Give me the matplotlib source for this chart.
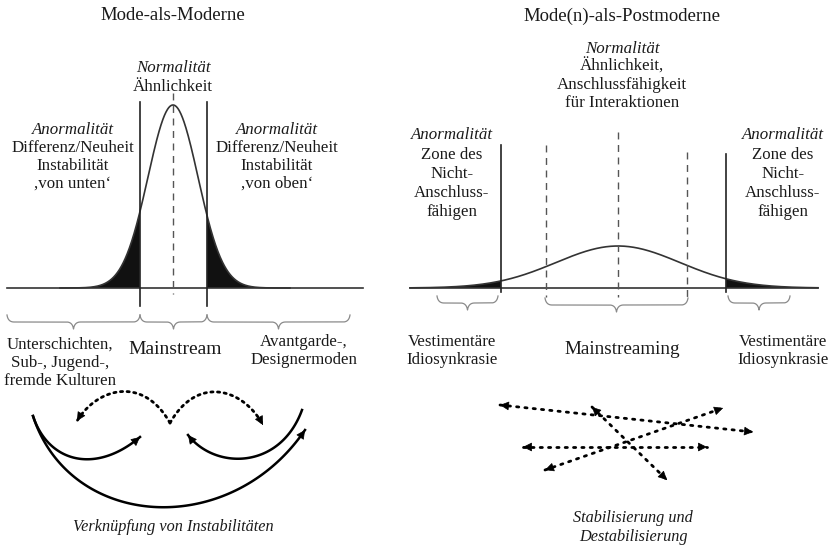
import numpy as np
import matplotlib.pyplot as plt
from math import comb

plt.rcParams['font.family'] = ['Liberation Serif', 'DejaVu Serif']

# canvas in pixel units (y downwards)
W, H = 835, 546

# --- left panel: Mode-als-Moderne ---
left_base_y = 288
left_base_x = [7, 363]
left_mu, left_sigma, left_peak = 173, 25, 183
left_cuts = [140, 207]
left_cut_top = 102
left_cut_bottom = 306
left_dash = [173, 93, 294]

# --- right panel: Mode(n)-als-Postmoderne ---
right_base_y = 288
right_base_x = [410, 818]
right_mu, right_sigma, right_peak = 618, 62, 42
right_cuts = [501, 726]
right_cut_tops = [145, 154]
right_dashes = [546, 618, 687]
right_dash_tops = [145, 132, 152]
right_dash_bottom = 297

titles = [("Mode-als-Moderne", 173, 16), ("Mode(n)-als-Postmoderne", 622, 16)]

left_top_italic = "Normalität"
left_top_lines = ["Ähnlichkeit"]
left_side_lines = ["Differenz/Neuheit", "Instabilität"]
left_side_tail = [",von unten\u2018", ",von oben\u2018"]

right_top_lines = ["Ähnlichkeit,", "Anschlussfähigkeit", "für Interaktionen"]
right_side_lines = ["Zone des", "Nicht-", "Anschluss-", "fähigen"]

left_groups = [["Unterschichten,", "Sub-, Jugend-,", "fremde Kulturen"],
               ["Avantgarde-,", "Designermoden"]]
right_groups = ["Vestimentäre", "Idiosynkrasie"]

# braces (x1, x2, y)
left_braces = [(7, 140, 322), (140, 207, 322), (207, 350, 322)]
right_braces = [(437, 498, 303), (545, 688, 305), (728, 790, 303)]

# curved arrows of the left panel (bezier control points)
solid_arcs = [
    [(33, 416), (48, 462), (95, 475), (140, 437)],
    [(33, 416), (70, 530), (230, 540), (305, 430)],
    [(302, 410), (280, 470), (215, 470), (188, 435)],
]
dotted_arcs = [
    [(170, 423), (143, 375), (97, 388), (77, 421)],
    [(170, 423), (197, 375), (243, 388), (263, 425)],
]

# straight dotted arrows of the right panel
dotted_lines = [
    [(500, 405), (753, 432)],
    [(592, 407), (667, 480)],
    [(523, 447), (707, 447)],
    [(545, 470), (723, 408)],
]

captions = [(["Verknüpfung von Instabilitäten"], 173, 527),
            (["Stabilisierung und", "Destabilisierung"], 633, 518)]

INK = '#1a1a1a'
BODY = 12.2


def bezier(pts, n=120):
    pts = np.array(pts, float)
    k = len(pts) - 1
    t = np.linspace(0, 1, n)[:, None]
    out = np.zeros((n, 2))
    for i, p in enumerate(pts):
        out += comb(k, i) * t ** i * (1 - t) ** (k - i) * p
    return out


def head(ax, tip, frm):
    tip = np.array(tip, float)
    d = tip - np.array(frm, float)
    d /= np.hypot(*d)
    ax.annotate('', xy=tip, xytext=tip - d * 1.0,
                arrowprops=dict(arrowstyle='-|>', color='k', lw=0.5,
                                mutation_scale=14, shrinkA=0, shrinkB=0))


def brace(ax, x1, x2, y, h=7):
    xm = (x1 + x2) / 2
    segs = [
        bezier([(x1, y - h), (x1 + 1, y), (x1 + h, y)]),
        np.array([(x1 + h, y), (xm - h, y)]),
        bezier([(xm - h, y), (xm - 1, y), (xm, y + h)]),
        bezier([(xm, y + h), (xm + 1, y), (xm + h, y)]),
        np.array([(xm + h, y), (x2 - h, y)]),
        bezier([(x2 - h, y), (x2 - 1, y), (x2, y - h)]),
    ]
    pts = np.vstack(segs)
    ax.plot(pts[:, 0], pts[:, 1], color='#8a8a8a', lw=0.9)


def stack(ax, lines, x, y, dy=18, size=BODY, style='normal'):
    for i, s in enumerate(lines):
        ax.text(x, y + i * dy, s, ha='center', va='center', fontsize=size,
                style=style, color=INK)


fig = plt.figure(figsize=(W / 100, H / 100), dpi=100)
ax = fig.add_axes([0, 0, 1, 1])
ax.set_xlim(0, W)
ax.set_ylim(H, 0)
ax.axis('off')

for s, x, y in titles:
    ax.text(x, y, s, ha='center', va='center', fontsize=13.5, color=INK)

# left bell curve
x = np.linspace(60, 290, 600)
y = left_base_y - left_peak * np.exp(-(x - left_mu) ** 2 / (2 * left_sigma ** 2))
ax.plot(left_base_x, [left_base_y] * 2, color='#333', lw=1.2)
ax.plot(x, y, color='#333', lw=1.2)
out = (x <= left_cuts[0]) | (x >= left_cuts[1])
ax.fill_between(x, y, left_base_y, where=out, color='#111', lw=0)
for cx in left_cuts:
    ax.plot([cx, cx], [left_cut_top, left_cut_bottom], color='#222', lw=1.2)
ax.plot([left_dash[0]] * 2, left_dash[1:], color='#555', lw=1.0, ls=(0, (5, 4)))

ax.text(173, 68, left_top_italic, ha='center', va='center', fontsize=BODY,
        style='italic', color=INK)
stack(ax, left_top_lines, 173, 87)
for cx, tail in zip([73, 277], left_side_tail):
    ax.text(cx, 130, "Anormalität", ha='center', va='center', fontsize=BODY,
            style='italic', color=INK)
    stack(ax, left_side_lines + [tail], cx, 148)

for b in left_braces:
    brace(ax, *b)
stack(ax, left_groups[0], 60, 345)
ax.text(175, 350, "Mainstream", ha='center', va='center', fontsize=14, color=INK)
stack(ax, left_groups[1], 304, 342)

for arc in solid_arcs:
    p = bezier(arc)
    ax.plot(p[:, 0], p[:, 1], color='k', lw=1.8)
    head(ax, arc[-1], arc[-2])
for arc in dotted_arcs:
    p = bezier(arc)
    ax.plot(p[:, 0], p[:, 1], color='k', lw=2.0, ls=(0, (0.8, 1.6)),
            dash_capstyle='round')
    head(ax, arc[-1], arc[-2])

# right bell curve
x = np.linspace(right_base_x[0], right_base_x[1], 800)
y = right_base_y - right_peak * np.exp(-(x - right_mu) ** 2 / (2 * right_sigma ** 2))
ax.plot(right_base_x, [right_base_y] * 2, color='#333', lw=1.2)
ax.plot(x, y, color='#333', lw=1.2)
out = (x <= right_cuts[0]) | (x >= right_cuts[1])
ax.fill_between(x, y, right_base_y, where=out, color='#111', lw=0)
for cx, top in zip(right_cuts, right_cut_tops):
    ax.plot([cx, cx], [top, 292], color='#222', lw=1.2)
for cx, top in zip(right_dashes, right_dash_tops):
    ax.plot([cx, cx], [top, right_dash_bottom], color='#555', lw=1.0, ls=(0, (5, 4)))

ax.text(622, 49, "Normalität", ha='center', va='center', fontsize=BODY,
        style='italic', color=INK)
stack(ax, right_top_lines, 622, 67)
for cx in [452, 783]:
    ax.text(cx, 135, "Anormalität", ha='center', va='center', fontsize=BODY,
            style='italic', color=INK)
    stack(ax, right_side_lines, cx, 155, dy=19)

for b in right_braces:
    brace(ax, *b)
stack(ax, right_groups, 452, 342)
stack(ax, right_groups, 783, 342)
ax.text(622, 350, "Mainstreaming", ha='center', va='center', fontsize=13.8, color=INK)

for a, b in dotted_lines:
    ax.plot([a[0], b[0]], [a[1], b[1]], color='k', lw=2.0, ls=(0, (0.8, 2.2)),
            dash_capstyle='round')
    head(ax, a, b)
    head(ax, b, a)

for lines, cx, cy in captions:
    stack(ax, lines, cx, cy, dy=19, size=11.7, style='italic')

fig.savefig('out.png', dpi=100, facecolor='white')
